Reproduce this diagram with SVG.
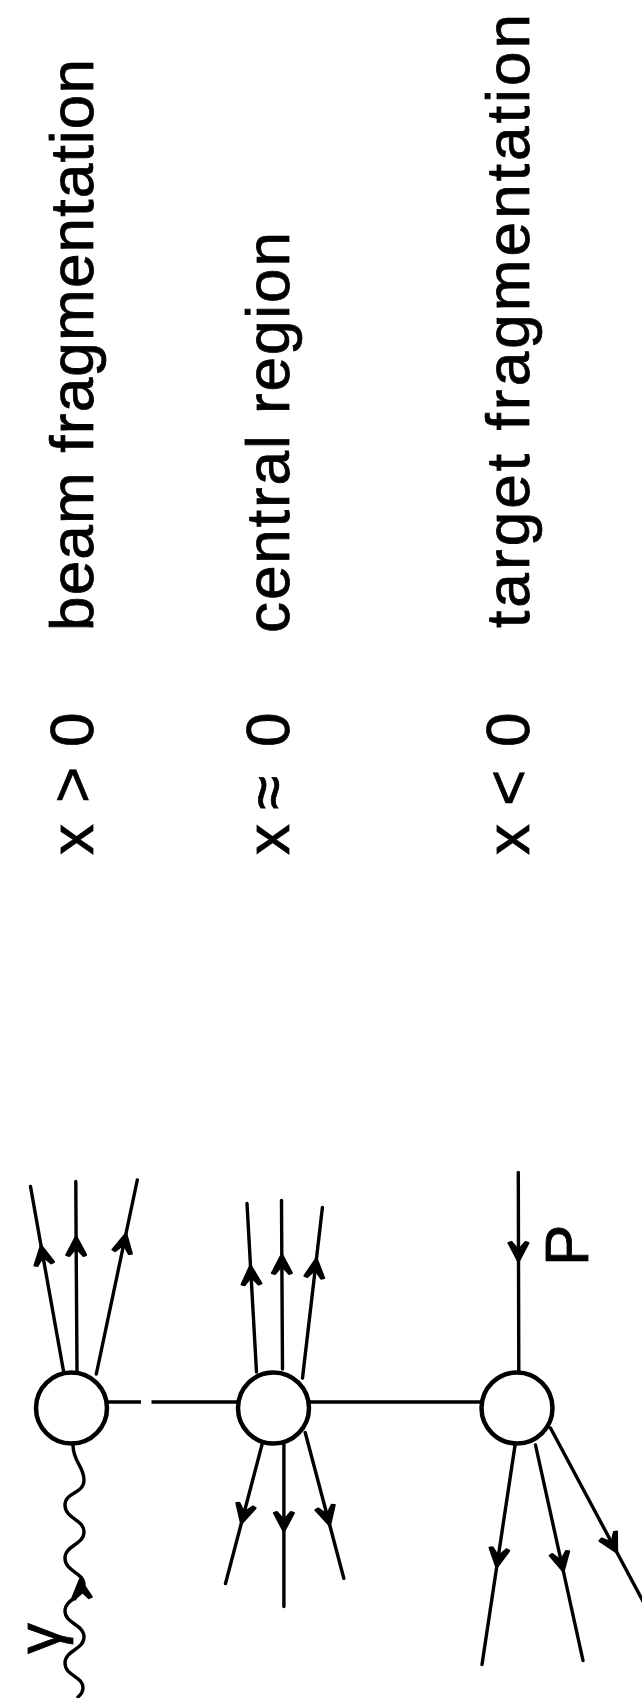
<svg xmlns="http://www.w3.org/2000/svg" width="642" height="1698" viewBox="0 0 642 1698">
<style>
.t{font-family:"Liberation Sans",Arial,sans-serif;font-size:62px;fill:#000;stroke:#000;stroke-width:0.8}
.ln{fill:none;stroke:#000;stroke-width:3.4;stroke-linecap:round;marker-mid:url(#ah)}
.bl{fill:none;stroke:#000;stroke-width:3.4}
.v{fill:#fff;stroke:#000;stroke-width:4.5}
.ph{fill:none;stroke:#000;stroke-width:3.4;stroke-linecap:round}
</style>
<defs>
<marker id="ah" markerUnits="userSpaceOnUse" orient="auto" markerWidth="1" markerHeight="1" style="overflow:visible">
<path id="ahp" d="M1,0 L-18,-10 L-19,-7 L-11,0 L-19,7 L-18,10 Z" fill="#000" stroke="#000" stroke-width="2" stroke-linejoin="round"/>
</marker>
</defs>
<rect width="642" height="1698" fill="#fff"/>

<g id="labels">
<text class="t" transform="translate(93,631) rotate(-90)" textLength="572" lengthAdjust="spacing">beam fragmentation</text>
<text class="t" transform="translate(289,633) rotate(-90)" textLength="401" lengthAdjust="spacing">central region</text>
<text class="t" transform="translate(529,628) rotate(-90)" textLength="614" lengthAdjust="spacing">target fragmentation</text>
<text class="t" transform="translate(93,860) rotate(-90)" x="5 36 57 92 113">x &gt; 0</text>
<text class="t" transform="translate(289,860) rotate(-90)" x="5 36 50 88 113">x ≈ 0</text>
<text class="t" transform="translate(529,860) rotate(-90)" x="5 36 54 88 113">x &lt; 0</text>
</g>

<g id="connectors">
<!-- horizontal links -->
<path class="bl" d="M108,1402 H141 M151.5,1402 H238 M309,1402 H482"/>
<!-- beam vertex outgoing -->
<polyline class="ln" points="63.5,1371 41.1,1246 30.5,1186.5"/>
<polyline class="ln" points="77,1371 76.1,1237 75.8,1181.5"/>
<polyline class="ln" points="96.3,1374 125.9,1234 137.3,1180"/>
<!-- photon -->
<path class="ph" d="M73,1445 C73,1462 84,1466 84,1480 C84,1494 65,1492 65,1505 C65,1519 84,1519 84,1532 C84,1545 65,1545 65,1558 C65,1572 84,1572 84,1585 C84,1598 65,1598 65,1611 C65,1624 84,1624 84,1637 C84,1650 65,1650 65,1663 C65,1676 83,1676 83,1688 C83,1693 80,1695 78,1697"/>
<use href="#ahp" transform="translate(80,1580) rotate(-96)"/>
<!-- central vertex -->
<polyline class="ln" points="256.5,1372 250.5,1266 247,1203.5"/>
<polyline class="ln" points="282.5,1369 281.8,1255 281.5,1200.5"/>
<polyline class="ln" points="302.5,1378 316.4,1259 322.4,1207.5"/>
<polyline class="ln" points="262.3,1443.5 241.4,1523 225.5,1583.5"/>
<polyline class="ln" points="283.9,1444 283.9,1531 283.9,1606.5"/>
<polyline class="ln" points="305.2,1432.5 329.7,1525 343.8,1578.3"/>
<!-- target vertex -->
<polyline class="ln" points="518.3,1172.5 518.5,1261 518.8,1371.5"/>
<polyline class="ln" points="515,1445.5 496.7,1567 482,1664.5"/>
<polyline class="ln" points="535.5,1445 563.3,1571 583,1660.5"/>
<polyline class="ln" points="550.5,1428 616.7,1552 660,1633"/>
</g>

<g id="node-beam"><circle class="v" cx="71.5" cy="1408" r="35.5"/></g>
<g id="node-central"><circle class="v" cx="273.5" cy="1408" r="35.5"/></g>
<g id="node-target"><circle class="v" cx="517" cy="1408" r="35.5"/></g>

<g id="particle-labels">
<text class="t" transform="translate(60,1654) rotate(-90)">γ</text>
<text class="t" transform="translate(588,1266) rotate(-90)">P</text>
</g>
</svg>
